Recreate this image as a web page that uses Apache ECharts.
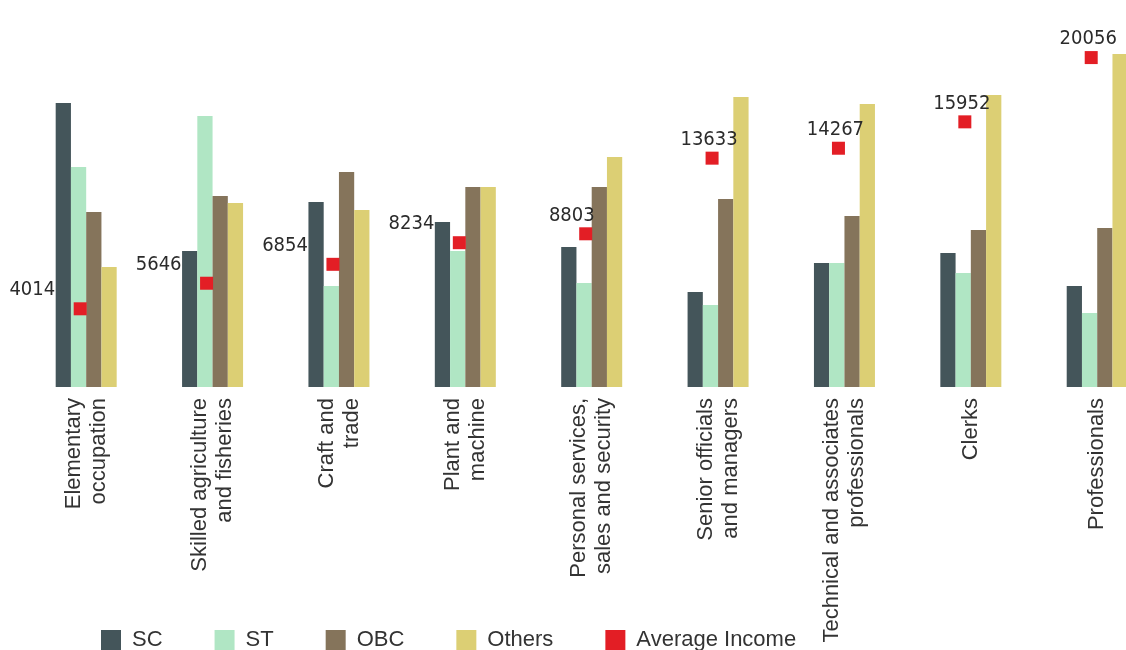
<!DOCTYPE html>
<html>
<head>
<meta charset="utf-8">
<script src="https://cdn.jsdelivr.net/npm/echarts@6/dist/echarts.min.js"></script>
<style>
  html, body { margin: 0; padding: 0; background: #fff; }
  #chart { width: 1126px; height: 650px; }
</style>
</head>
<body>
<div id="chart"></div>
<script>
// occupation groups
const categories = [
  'Elementary\noccupation',
  'Skilled agriculture\nand fisheries',
  'Craft and\ntrade',
  'Plant and\nmachine',
  'Personal services,\nsales and security',
  'Senior officials\nand managers',
  'Technical and associates\nprofessionals',
  'Clerks',
  'Professionals'
]
// share of each social group
const sc = [28.4, 13.6, 18.5, 16.5, 14.0, 9.5, 12.4, 13.4, 10.1]
const st = [22.0, 27.1, 10.1, 13.6, 10.4, 8.2, 12.4, 11.4, 7.4]
const obc = [17.5, 19.1, 21.5, 20.0, 20.0, 18.8, 17.1, 15.7, 15.9]
const others = [12.0, 18.4, 17.7, 20.0, 23.0, 29.0, 28.3, 29.2, 33.3]
// average income
const avgIncome = [4014, 5646, 6854, 8234, 8803, 13633, 14267, 15952, 20056]

const chart = echarts.init(document.getElementById('chart'))

const numFont = "'DejaVu Sans Condensed', 'Liberation Sans', sans-serif"
const textFont = "'Liberation Sans', Arial, sans-serif"

const barStyle = (name, data, color) => ({
  name,
  type: 'bar',
  data,
  barWidth: 15.25,
  barGap: '0%',
  itemStyle: { color },
  yAxisIndex: 0
})

const incomeData = avgIncome.map((v, i) => {
  let label
  if (i < 4) {
    label = { position: 'top', align: 'right', offset: [-25, 0] }
  } else if (i === 4) {
    label = { position: 'top', align: 'right', offset: [9, 0] }
  } else {
    label = { position: 'top', align: 'center', offset: [-3, 0] }
  }
  return { value: v, label }
})

const option = {
  animation: false,
  backgroundColor: '#fff',
  grid: {
    left: 23,
    width: 1137.4,
    top: 37,
    bottom: 263,
    containLabel: false,
    outerBoundsMode: 'none'
  },
  legend: {
    left: 101,
    top: 629,
    padding: 0,
    itemWidth: 20,
    itemHeight: 20,
    itemGap: 52,
    icon: 'rect',
    textStyle: {
      fontFamily: textFont,
      fontSize: 22,
      color: '#333',
      padding: [0, 0, 0, 6]
    },
    data: ['SC', 'ST', 'OBC', 'Others', 'Average Income']
  },
  xAxis: {
    type: 'category',
    data: categories,
    axisLine: { show: false },
    axisTick: { show: false },
    axisLabel: {
      rotate: 90,
      interval: 0,
      margin: 11,
      fontSize: 22,
      lineHeight: 25,
      color: '#333',
      fontFamily: textFont
    }
  },
  yAxis: [
    {
      type: 'value',
      min: 0,
      max: 35,
      show: false,
      splitLine: { show: false }
    },
    {
      type: 'value',
      min: -980,
      max: 21370,
      show: false,
      splitLine: { show: false }
    }
  ],
  series: [
    barStyle('SC', sc, '#44555a'),
    barStyle('ST', st, '#b0e6c4'),
    barStyle('OBC', obc, '#85745b'),
    barStyle('Others', others, '#dccf74'),
    {
      name: 'Average Income',
      type: 'scatter',
      yAxisIndex: 1,
      symbol: 'rect',
      symbolSize: 13,
      symbolOffset: [-6, 0],
      itemStyle: { color: '#e31e25', opacity: 1 },
      label: {
        show: true,
        distance: 2,
        fontFamily: numFont,
        fontSize: 20,
        color: '#2b2b2b'
      },
      data: incomeData,
      z: 5
    }
  ]
}

chart.setOption(option)
</script>
</body>
</html>
